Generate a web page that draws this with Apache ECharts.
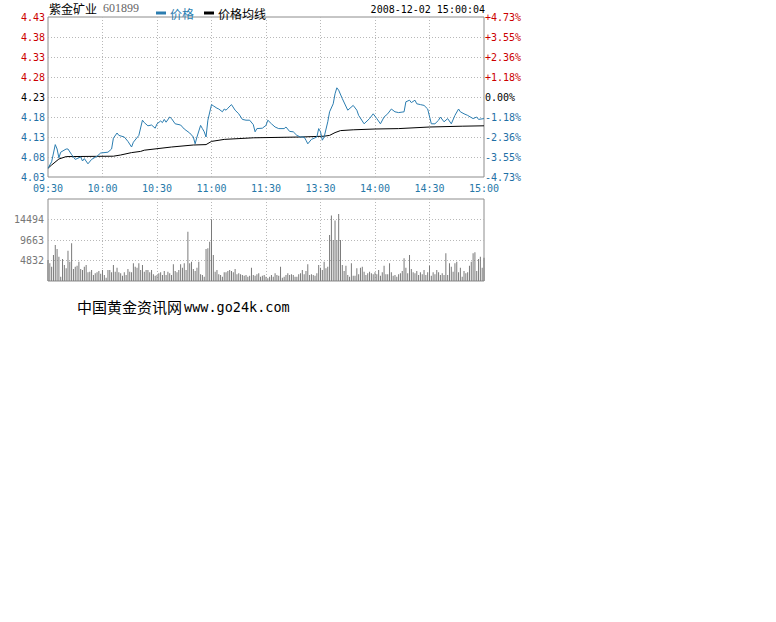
<!DOCTYPE html>
<html>
<head>
<meta charset="utf-8">
<script src="https://cdn.jsdelivr.net/npm/echarts@6/dist/echarts.min.js"></script>
<style>
html,body{margin:0;padding:0;background:#fff;}
#chart{width:776px;height:622px;}
</style>
</head>
<body>
<div id="chart"></div>
<script>
// ---------- data ----------
const stockName = '紫金矿业';
const stockCode = '601899';
const stampText = '2008-12-02 15:00:04';
const footerText = '中国黄金资讯网';
const footerUrl = 'www.go24k.com';
const prevClose = 4.23;
const timeLabels = ['09:30','10:00','10:30','11:00','11:30','13:30','14:00','14:30','15:00'];
const volTickLabels = ['', '4832', '9663', '14494', ''];

const priceTimes = ['09:30','09:32','09:34','09:35','09:36','09:37','09:40','09:41','09:43','09:45','09:48','09:49','09:50','09:52','09:54','09:57','09:59',
 '10:03','10:05','10:06','10:08','10:09','10:12','10:14','10:16','10:17','10:20','10:22','10:23','10:25','10:27','10:29','10:30','10:32','10:33','10:34','10:35','10:37','10:38','10:40','10:43','10:45','10:48','10:50','10:51','10:52','10:54','10:55','10:56','10:57','10:58',
 '11:00','11:01','11:03','11:04','11:06','11:07','11:08','11:09','11:11','11:13','11:15','11:17','11:19','11:21','11:23','11:24','11:25','11:28','11:30',
 '13:01','13:03','13:05','13:07','13:10','13:11','13:13','13:15','13:17','13:19','13:21','13:22','13:23','13:25','13:28','13:29','13:30','13:31','13:32','13:34','13:35','13:37','13:38','13:39','13:40','13:42','13:45','13:48','13:50','13:51','13:54','13:57','13:59',
 '14:01','14:03','14:05','14:07','14:09','14:11','14:13','14:16','14:17','14:19','14:20','14:22','14:23','14:25','14:27','14:29','14:31','14:33','14:35','14:36','14:38','14:40','14:42','14:44','14:46','14:47','14:49','14:51','14:54','14:56','14:57','15:00'];
const priceValues = [4.052,4.068,4.111,4.100,4.078,4.092,4.100,4.100,4.086,4.074,4.080,4.070,4.076,4.063,4.074,4.082,4.090,
 4.092,4.100,4.127,4.140,4.134,4.130,4.119,4.105,4.117,4.134,4.172,4.166,4.158,4.160,4.152,4.163,4.170,4.166,4.174,4.167,4.180,4.176,4.163,4.160,4.150,4.140,4.130,4.113,4.130,4.159,4.151,4.143,4.130,4.172,
 4.211,4.208,4.202,4.200,4.193,4.200,4.197,4.202,4.211,4.197,4.188,4.174,4.172,4.172,4.161,4.143,4.151,4.152,4.159,
 4.172,4.163,4.155,4.151,4.151,4.155,4.144,4.143,4.134,4.130,4.130,4.122,4.113,4.124,4.130,4.151,4.143,4.122,4.130,4.168,4.193,4.213,4.238,4.253,4.247,4.226,4.197,4.209,4.197,4.184,4.163,4.176,4.188,
 4.176,4.163,4.180,4.188,4.200,4.193,4.191,4.193,4.218,4.222,4.216,4.222,4.213,4.211,4.209,4.200,4.163,4.163,4.172,4.180,4.168,4.176,4.163,4.184,4.200,4.193,4.188,4.184,4.176,4.180,4.174,4.176];

const avgTimes = ['09:30','09:32','09:36','09:40','10:06','10:10','10:16','10:21','10:23','10:38','10:50','10:57','11:00','11:07','11:23',
 '13:19','13:32','13:35','13:38','13:41','13:48','14:00','14:13','14:30','14:48','15:00'];
const avgValues = [4.052,4.060,4.075,4.081,4.082,4.085,4.091,4.094,4.097,4.105,4.110,4.111,4.119,4.124,4.128,
 4.130,4.132,4.134,4.141,4.146,4.148,4.150,4.151,4.155,4.157,4.158];

// volume per minute, 09:30 .. 11:30
const volMorning = [4950,4170,3380,6130,8490,7550,5740,1020,5190,3770,
 2990,7150,4560,8880,2830,3380,3620,4560,2830,2590,
 3380,3770,2040,2200,2590,1410,1810,2040,
 2360,1730,2590,1410,790,2590,2590,2040,3770,2200,
 3140,2040,1810,1260,2040,1410,2830,2200,2040,
 4170,3380,3140,4170,2590,3770,2200,2590,2590,2040,
 2590,1570,1260,1410,1810,2040,1410,2360,1410,
 2200,1810,1410,3930,2360,2040,2590,3930,3140,
 4170,2590,11630,4170,4560,2830,2360,3140,4560,
 1570,1410,1020,7550,7700,9280,14550,6130,2200,
 2590,1570,1410,1020,2040,2040,2360,2590,2360,2040,
 2830,1570,1810,1570,1410,1260,1410,1020,1260,3140,
 1410,1260,1570,1810,1020,1260,1410,1020];
// volume per minute, 13:01 .. 15:00
const volAfternoon = [630,1020,1410,1020,1810,1410,1260,3380,790,1020,
 1410,1810,1410,1570,1410,1020,1020,1570,1810,2590,
 1570,2360,3930,1410,1570,1410,1260,1810,3770,3140,
 2590,4560,2990,3380,10850,15450,9670,14260,9670,15790,
 9670,3770,2360,3620,1410,1020,4170,1260,1260,2990,
 1570,3140,3380,2200,1410,1810,2200,1810,1570,2040,
 1570,2590,1260,2040,3620,1570,1570,4170,2040,1260,
 1410,1020,1570,1810,2360,5350,3140,1810,6130,2830,
 2040,1810,2360,1410,2040,1570,2590,1410,2040,3620,
 1260,2040,1570,2590,2040,1410,1810,1410,6520,1410,
 4170,3380,2200,4170,4560,2040,3140,1020,2360,1810,
 2040,3620,4560,6520,6760,2360,5190,5740,3140,5500];

// ---------- helpers ----------
function tradeMinute(t){
  const p = t.split(':').map(Number);
  const m = p[0]*60 + p[1];
  return m <= 690 ? m - 570 : m - 780 + 120;
}
const pricePairs = priceTimes.map((t,i)=>[tradeMinute(t), priceValues[i]]);
const avgPairs = avgTimes.map((t,i)=>[tradeMinute(t), avgValues[i]]);
const volPairs = volMorning.map((v,i)=>[i, v]).concat(volAfternoon.map((v,i)=>[121+i, v]));

const RED = '#cc0000', BLUE = '#1f70a6', BLACK = '#000000';
const LINE_BLUE = '#2b7db0';
const MONO = '"DejaVu Sans Mono", monospace';
const CJK = '"Noto Sans CJK SC", sans-serif';

function priceColor(v){
  v = parseFloat(v);
  if (v > prevClose + 1e-6) return RED;
  if (v < prevClose - 1e-6) return BLUE;
  return BLACK;
}
function pctLabel(v){
  v = parseFloat(v);
  const pct = (v - prevClose) / prevClose * 100;
  if (Math.abs(pct) < 0.005) return '0.00%';
  return (pct > 0 ? '+' : '') + pct.toFixed(2) + '%';
}

const gridLine = {show:true, showMinLine:false, showMaxLine:false, lineStyle:{color:'#b8b8b8', type:[1,2], width:1}};

const chart = echarts.init(document.getElementById('chart'), null, {renderer:'svg'});
const option = {
  animation:false,
  backgroundColor:'#ffffff',
  legend:{
    left:151, top:2, itemWidth:10, itemHeight:3, itemGap:10, icon:'rect',
    textStyle:{fontFamily:CJK, fontSize:12, padding:[0,0,0,-1]},
    data:[
      {name:'价格', itemStyle:{color:LINE_BLUE}, textStyle:{color:LINE_BLUE}},
      {name:'价格均线', itemStyle:{color:'#000'}, textStyle:{color:'#000'}}
    ]
  },
  grid:[
    {left:48, top:17, width:436, height:160, show:true, borderColor:'#8c8c8c', borderWidth:1},
    {left:48, top:199, width:436, height:82, show:true, borderColor:'#8c8c8c', borderWidth:1}
  ],
  xAxis:[
    {gridIndex:0, type:'value', min:0, max:240, interval:30,
     axisLine:{show:false}, axisTick:{show:false}, splitLine:gridLine,
     axisLabel:{color:'#2678a8', fontFamily:MONO, fontSize:10, margin:6,
       formatter:(v)=>timeLabels[Math.round(v/30)]}},
    {gridIndex:1, type:'value', min:0, max:240, interval:30,
     axisLine:{show:false}, axisTick:{show:false}, splitLine:gridLine,
     axisLabel:{show:false}}
  ],
  yAxis:[
    {gridIndex:0, type:'value', min:4.03, max:4.43, interval:0.05, position:'left',
     axisLine:{show:false}, axisTick:{show:false}, splitLine:gridLine,
     axisLabel:{fontFamily:MONO, fontSize:10, margin:3, color:priceColor,
       formatter:(v)=>parseFloat(v).toFixed(2)}},
    {gridIndex:0, type:'value', min:4.03, max:4.43, interval:0.05, position:'right',
     axisLine:{show:false}, axisTick:{show:false}, splitLine:{show:false},
     axisLabel:{fontFamily:MONO, fontSize:10, margin:1, color:priceColor, formatter:pctLabel}},
    {gridIndex:1, type:'value', min:0, max:19326, interval:4831.5, position:'left',
     axisLine:{show:false}, axisTick:{show:false}, splitLine:gridLine,
     axisLabel:{fontFamily:MONO, fontSize:10, margin:4, color:'#777',
       formatter:(v)=>volTickLabels[Math.round(v/4831.5)] || ''}}
  ],
  series:[
    {name:'价格', type:'line', xAxisIndex:0, yAxisIndex:0, data:pricePairs,
     showSymbol:false, lineStyle:{color:LINE_BLUE, width:1}, itemStyle:{color:LINE_BLUE}, z:3},
    {name:'价格均线', type:'line', xAxisIndex:0, yAxisIndex:0, data:avgPairs,
     showSymbol:false, lineStyle:{color:'#000', width:1}, itemStyle:{color:'#000'}, z:2},
    {name:'成交量', type:'bar', xAxisIndex:1, yAxisIndex:2, data:volPairs,
     barWidth:1, itemStyle:{color:'#7a7a7a'}}
  ],
  graphic:[
    {type:'text', style:{x:49, y:8, text:stockName, font:'12px ' + CJK, fill:'#000', textVerticalAlign:'middle'}},
    {type:'text', style:{x:103, y:8, text:stockCode, font:'12px "Liberation Serif", serif', fill:'#666', textVerticalAlign:'middle'}},
    {type:'text', style:{x:485, y:9, text:stampText, font:'10px ' + MONO, fill:'#000', textAlign:'right', textVerticalAlign:'middle'}},
    {type:'text', style:{x:77, y:306, text:footerText, font:'15px ' + CJK, fill:'#000', textVerticalAlign:'middle'}},
    {type:'text', style:{x:184, y:307, text:footerUrl, font:'13.5px ' + MONO, fill:'#000', textVerticalAlign:'middle'}}
  ]
};
chart.setOption(option);
</script>
</body>
</html>
